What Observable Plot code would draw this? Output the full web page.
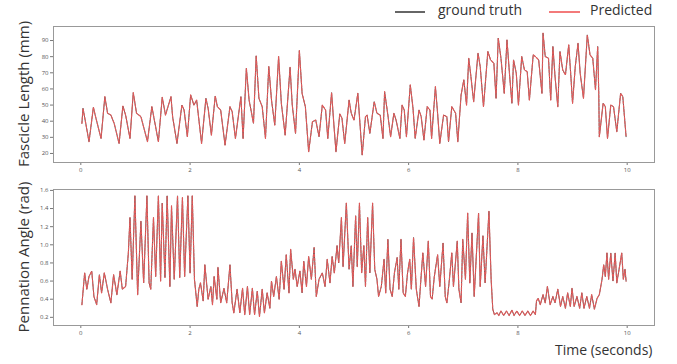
<!DOCTYPE html>
<html><head><meta charset="utf-8">
<script src="https://cdn.jsdelivr.net/npm/d3@7"></script>
<script src="https://cdn.jsdelivr.net/npm/@observablehq/plot@0.6"></script>
<style>
body{margin:0;background:#fff;}
#root{position:relative;width:677px;height:364px;font-family:"Open Sans",sans-serif;overflow:hidden;background:#fff;}
.panel{position:absolute;left:0;}
.ylab{position:absolute;font-size:15px;color:#333;white-space:nowrap;transform:translate(-50%,-50%) rotate(-90deg);}
.txt{position:absolute;font-size:14px;color:#333;white-space:nowrap;line-height:1;}
.sw{position:absolute;height:1.5px;}
</style></head>
<body>
<div id="root">
  <div class="sw" style="left:395px;top:11px;width:30px;background:#666;"></div>
  <div class="txt" style="left:438px;top:3px;">ground truth</div>
  <div class="sw" style="left:549px;top:11px;width:31px;background:#f37a7a;"></div>
  <div class="txt" style="left:590px;top:3px;">Predicted</div>
  <div class="ylab" style="left:23px;top:94px;">Fascicle Length (mm)</div>
  <div class="ylab" style="left:23px;top:257px;">Pennation Angle (rad)</div>
  <div class="txt" style="left:555px;top:343px;">Time (seconds)</div>
  <div id="p1" class="panel" style="top:0px;"></div>
  <div id="p2" class="panel" style="top:175px;"></div>
</div>
<script>
const timeTicks = [0, 2, 4, 6, 8, 10];
const lengthTicks = [20, 30, 40, 50, 60, 70, 80, 90];
const angleTicks = [0.2, 0.4, 0.6, 0.8, 1.0, 1.2, 1.4, 1.6];

const lengthTime = [
0.02,0.04,0.09,0.15,0.23,0.27,0.37,0.44,0.49,0.55,
0.61,0.70,0.77,0.82,0.90,0.96,1.02,1.10,1.22,1.30,
1.34,1.42,1.49,1.55,1.65,1.68,1.76,1.85,1.89,1.95,
2.01,2.07,2.12,2.21,2.29,2.33,2.39,2.46,2.50,2.56,
2.64,2.73,2.77,2.83,2.93,2.97,3.03,3.08,3.16,3.21,
3.26,3.32,3.38,3.44,3.49,3.55,3.62,3.67,3.74,3.83,
3.87,3.93,4.00,4.05,4.11,4.17,4.24,4.30,4.36,4.42,
4.48,4.52,4.59,4.63,4.67,4.74,4.78,4.83,4.91,4.95,
5.00,5.07,5.15,5.21,5.24,5.29,5.37,5.42,5.48,5.53,
5.56,5.62,5.67,5.73,5.77,5.84,5.88,5.92,5.96,6.03,
6.08,6.12,6.19,6.23,6.28,6.34,6.39,6.42,6.49,6.53,
6.57,6.64,6.70,6.73,6.79,6.86,6.90,6.96,7.01,7.06,
7.10,7.14,7.19,7.27,7.31,7.37,7.45,7.50,7.56,7.60,
7.64,7.69,7.75,7.80,7.85,7.89,7.92,7.97,8.01,8.07,
8.12,8.17,8.21,8.28,8.32,8.38,8.44,8.46,8.50,8.56,
8.60,8.64,8.68,8.73,8.77,8.82,8.87,8.93,8.97,9.00,
9.05,9.10,9.14,9.20,9.27,9.32,9.37,9.42,9.46,9.48,
9.49,9.56,9.60,9.64,9.70,9.75,9.81,9.88,9.92,9.98];

const lengthTruth = [
38.7,48.0,38.7,27.3,48.6,42.8,29.3,55.2,44.9,43.8,
38.7,26.2,49.4,43.8,29.3,57.7,44.9,42.8,27.3,49.0,
41.8,27.3,54.8,43.8,55.2,42.8,26.2,50.0,46.9,30.4,
56.3,50.0,53.1,26.2,54.2,48.0,31.4,55.6,49.0,46.9,
25.2,49.0,45.9,29.3,55.2,29.3,72.8,53.1,38.7,80.5,
54.2,49.0,29.3,73.9,53.1,37.6,80.1,51.1,31.4,73.4,
50.0,32.4,83.8,57.3,49.0,21.1,39.7,40.7,30.4,50.0,
46.9,29.3,57.7,38.7,21.1,44.5,41.8,26.2,53.1,44.9,
40.7,57.3,19.0,42.8,43.8,32.4,52.1,44.9,43.8,29.3,
58.3,43.8,30.4,44.9,40.7,29.3,50.0,46.9,30.4,62.5,
48.0,29.3,46.9,42.8,28.3,49.0,46.9,29.3,61.4,44.9,
26.2,43.8,42.8,27.3,49.0,44.9,27.3,56.3,65.6,50.0,
79.0,67.6,52.1,82.1,73.9,49.0,83.2,78.0,75.9,54.2,
91.5,79.0,57.3,90.4,67.6,51.1,78.0,69.7,50.0,80.1,
71.8,70.7,53.1,81.1,80.1,78.0,57.3,94.6,80.1,79.0,
53.1,86.3,67.6,49.0,83.2,71.8,68.7,87.3,67.6,51.1,
73.9,88.3,69.7,54.2,93.5,81.1,79.0,59.4,86.3,57.3,
30.4,51.1,49.0,29.3,50.0,49.0,33.5,57.3,55.2,30.4];
const lengthPredicted = lengthTruth.slice();

const angleTime = [
0.02,0.07,0.11,0.15,0.20,0.24,0.29,0.34,0.38,0.43,
0.49,0.55,0.60,0.66,0.72,0.76,0.82,0.87,0.90,0.94,
0.99,1.04,1.10,1.15,1.21,1.25,1.28,1.33,1.37,1.42,
1.46,1.49,1.54,1.58,1.63,1.66,1.71,1.77,1.81,1.86,
1.90,1.96,2.00,2.04,2.08,2.13,2.16,2.19,2.24,2.27,
2.33,2.38,2.41,2.44,2.49,2.51,2.56,2.62,2.67,2.73,
2.77,2.80,2.86,2.91,2.96,3.00,3.05,3.09,3.14,3.18,
3.23,3.27,3.32,3.36,3.41,3.46,3.49,3.53,3.58,3.63,
3.67,3.72,3.76,3.81,3.84,3.89,3.92,3.96,4.01,4.05,
4.08,4.13,4.17,4.22,4.27,4.31,4.36,4.42,4.47,4.51,
4.56,4.60,4.64,4.69,4.72,4.77,4.80,4.86,4.91,4.95,
4.98,5.03,5.06,5.10,5.14,5.18,5.21,5.25,5.29,5.34,
5.38,5.42,5.45,5.50,5.55,5.58,5.62,5.66,5.70,5.74,
5.79,5.82,5.86,5.90,5.94,5.98,6.02,6.05,6.09,6.14,
6.19,6.22,6.26,6.31,6.36,6.40,6.43,6.47,6.53,6.57,
6.63,6.67,6.70,6.74,6.79,6.82,6.89,6.92,6.96,6.99,
7.04,7.08,7.12,7.16,7.20,7.28,7.31,7.36,7.40,7.47,
7.51,7.54,7.57,7.62,7.65,7.69,7.74,7.79,7.84,7.89,
7.93,7.98,8.03,8.08,8.13,8.18,8.23,8.28,8.32,8.34,
8.37,8.41,8.46,8.50,8.54,8.59,8.64,8.68,8.73,8.78,
8.82,8.87,8.91,8.96,8.99,9.03,9.08,9.13,9.17,9.21,
9.26,9.31,9.35,9.40,9.45,9.49,9.54,9.57,9.60,9.63,
9.66,9.70,9.74,9.78,9.81,9.86,9.90,9.93,9.96,9.98];

const angleTruth = [
0.34,0.69,0.51,0.65,0.71,0.43,0.34,0.67,0.47,0.69,
0.51,0.36,0.67,0.45,0.71,0.51,0.54,0.91,1.30,0.62,
1.54,0.45,1.26,0.58,1.54,0.58,0.51,1.30,0.65,1.54,
0.60,1.46,0.64,1.54,0.54,1.43,0.62,1.54,0.64,1.52,
0.65,1.54,0.69,1.54,0.62,0.32,0.51,0.58,0.38,0.78,
0.40,0.54,0.34,0.65,0.40,0.75,0.36,0.52,0.36,0.78,
0.36,0.25,0.51,0.25,0.52,0.23,0.54,0.23,0.52,0.23,
0.49,0.21,0.51,0.25,0.47,0.30,0.60,0.43,0.65,0.40,
0.82,0.51,0.89,0.47,0.95,0.62,0.73,0.54,0.71,0.47,
0.82,0.54,0.87,0.62,0.97,0.43,0.62,0.69,0.54,0.84,
0.58,0.87,0.69,0.99,0.80,1.30,0.76,1.46,0.73,0.99,
0.54,1.32,0.76,1.46,0.69,0.99,0.54,1.30,0.69,1.46,
0.73,0.62,0.43,0.54,0.84,0.47,1.06,0.51,0.43,0.69,
0.86,0.51,1.06,0.47,0.43,0.69,0.84,0.51,1.08,0.51,
0.32,0.58,0.91,0.54,1.04,0.43,0.40,0.65,0.89,0.54,
1.02,0.43,0.36,0.58,0.91,0.54,1.04,0.51,0.36,1.06,
0.62,1.35,0.58,1.13,0.43,1.35,0.54,1.10,0.58,1.37,
0.62,0.29,0.23,0.25,0.22,0.27,0.22,0.27,0.22,0.28,
0.22,0.27,0.22,0.27,0.22,0.27,0.22,0.27,0.23,0.38,
0.41,0.34,0.45,0.36,0.54,0.34,0.43,0.36,0.51,0.32,
0.43,0.30,0.47,0.32,0.52,0.32,0.43,0.30,0.47,0.30,
0.43,0.30,0.45,0.29,0.41,0.45,0.62,0.78,0.65,0.91,
0.62,0.91,0.60,0.91,0.58,0.76,0.91,0.62,0.73,0.60];
const anglePredicted = angleTruth.slice();

function panel(time, truth, pred, yDomain, yTicks, yFormat, opts) {
  const n = Math.min(time.length, truth.length, pred.length);
  const idx = d3.range(n);
  return Plot.plot({
    width: 677,
    height: opts.height,
    marginLeft: 53,
    marginRight: 23,
    marginTop: opts.top,
    marginBottom: opts.bottom,
    style: {fontSize: "6px", fontFamily: "'Open Sans', sans-serif", color: "#555", background: "transparent", overflow: "visible"},
    x: {domain: [-0.5, 10.5]},
    y: {domain: yDomain},
    marks: [
      Plot.axisX({ticks: timeTicks, tickSize: 3, tickPadding: 2, label: null, stroke: "#777"}),
      Plot.axisY({ticks: yTicks, tickFormat: yFormat, tickSize: 3, tickPadding: 2, label: null, stroke: "#777"}),
      Plot.line(idx, {x: i => time[i], y: i => truth[i], stroke: "#555", strokeWidth: 1}),
      Plot.line(idx, {x: i => time[i], y: i => pred[i], stroke: "#f05a5a", strokeWidth: 1.2, strokeDasharray: "2.5,1.5", strokeOpacity: 0.9}),
      Plot.frame({stroke: "#999", strokeWidth: 1})
    ]
  });
}

document.getElementById("p1").append(
  panel(lengthTime, lengthTruth, lengthPredicted, [14.4, 98.7], lengthTicks, d => String(d), {height: 175, top: 26, bottom: 13})
);
document.getElementById("p2").append(
  panel(angleTime, angleTruth, anglePredicted, [0.11, 1.61], angleTicks, d3.format(".1f"), {height: 189, top: 14, bottom: 39})
);
</script>
</body></html>
